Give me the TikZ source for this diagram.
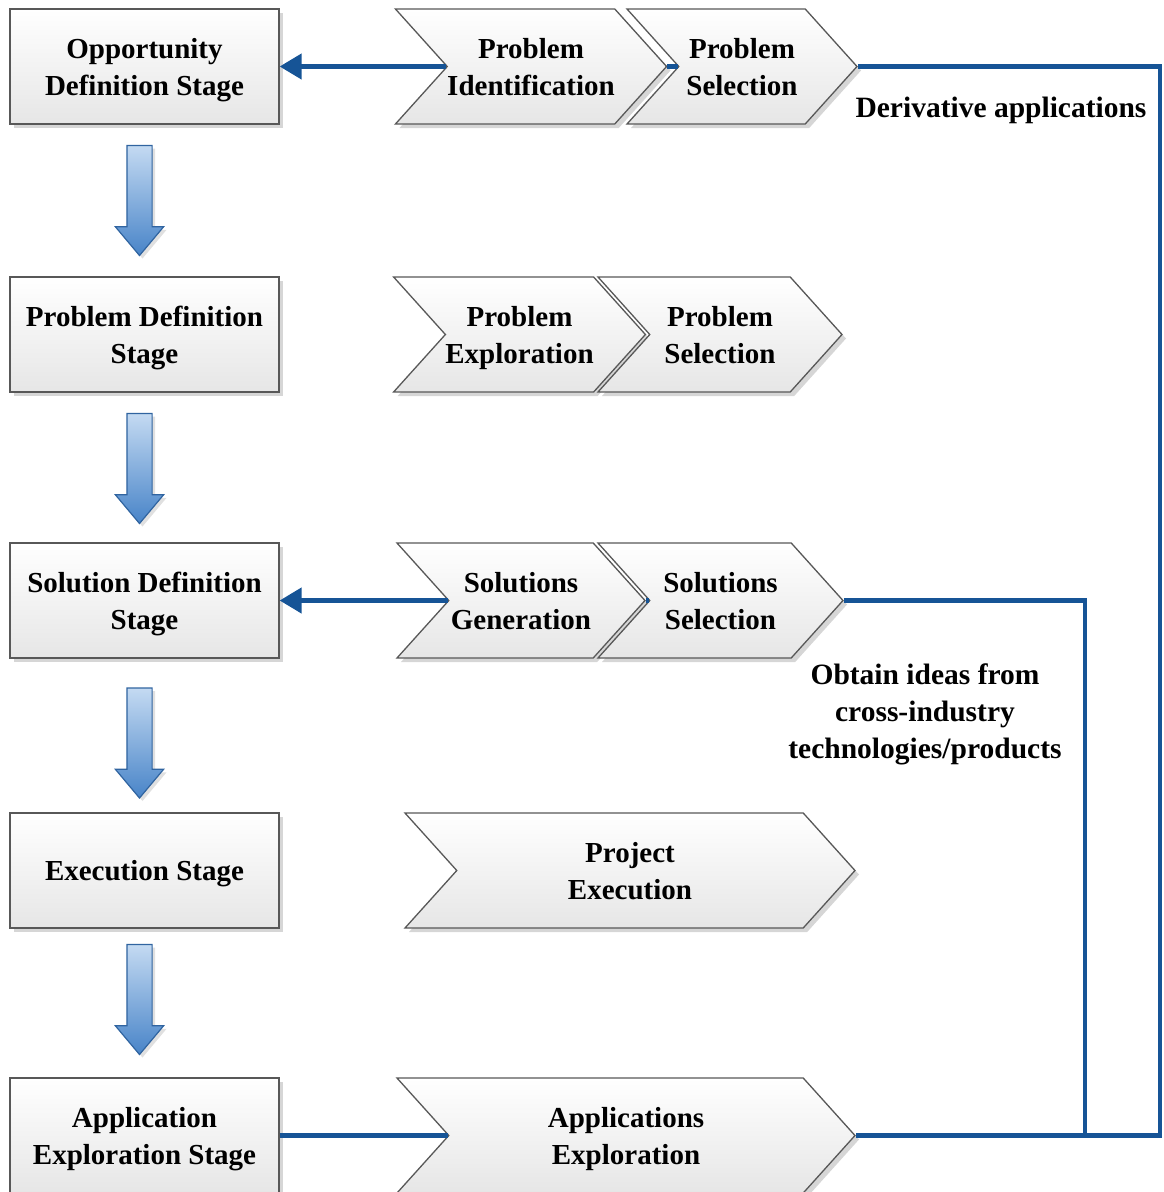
\documentclass[tikz,border=0pt]{standalone}
\usepackage{fontspec}
\setmainfont{Liberation Serif}
\usetikzlibrary{shapes.symbols,shapes.arrows,shadows,arrows.meta}

\definecolor{flowblue}{RGB}{22,84,150}
\definecolor{edgegray}{RGB}{88,88,88}
\definecolor{boxlow}{RGB}{230,230,230}
\definecolor{arrowlight}{RGB}{196,218,242}
\definecolor{arrowdark}{RGB}{72,132,200}
\definecolor{arrowedge}{RGB}{48,100,160}

\begin{document}
\begin{tikzpicture}[x=1pt,y=-1pt,
  every node/.style={font=\fontsize{29}{37}\selectfont\bfseries, align=center, inner sep=0pt, text depth=0pt},
  softshadow/.style={drop shadow={shadow xshift=4pt, shadow yshift=-4pt, fill=black, opacity=0.16}},
  stagebox/.style={rectangle, draw=edgegray, line width=1.3pt,
    minimum width=269pt, minimum height=115pt,
    top color=white, bottom color=boxlow, softshadow},
  chev/.style={signal, signal from=west, signal to=east, signal pointer angle=96,
    draw=edgegray, line width=1.3pt, minimum height=115pt,
    top color=white, bottom color=boxlow, softshadow},
  downarrow/.style={single arrow, rotate=-90, draw=arrowedge, line width=1.2pt,
    inner xsep=0pt, inner ysep=12pt, minimum height=110pt,
    single arrow head extend=11.5pt, single arrow tip angle=80,
    top color=arrowlight, bottom color=arrowdark,
    drop shadow={shadow xshift=3pt, shadow yshift=-3pt, fill=black, opacity=0.12}},
  flow/.style={draw=flowblue, line width=4.5pt},
  note/.style={font=\fontsize{29.5}{37}\selectfont\bfseries}
]
\useasboundingbox (0,0) rectangle (1164,1192);

% stage boxes on the left
\node[stagebox] (b1) at (144.5,66.5)   {Opportunity\\Definition Stage};
\node[stagebox] (b2) at (144.5,334.5)  {Problem Definition\\Stage};
\node[stagebox] (b3) at (144.5,600.5)  {Solution Definition\\Stage};
\node[stagebox] (b4) at (144.5,870.5)  {Execution Stage};
\node[stagebox] (b5) at (144.5,1135.5) {Application\\Exploration Stage};

% block arrows between the stages
\node[downarrow] (d1) at (139.5,193) {};
\node[downarrow] (d2) at (139.5,461) {};
\node[downarrow] (d3) at (139.5,735.5) {};
\node[downarrow] (d4) at (139.5,992) {};

% activity chevrons
\node[chev, minimum width=268pt] (c11) at (531,66.5)   {Problem\\Identification};
\node[chev, minimum width=230pt] (c12) at (742,66.5)   {Problem\\Selection};
\node[chev, minimum width=245pt] (c21) at (519.5,334.5) {Problem\\Exploration};
\node[chev, minimum width=244pt] (c22) at (720,334.5)  {Problem\\Selection};
\node[chev, minimum width=248pt] (c31) at (521,600.5)  {Solutions\\Generation};
\node[chev, minimum width=245pt] (c32) at (720.5,600.5) {Solutions\\Selection};
\node[chev, minimum width=450pt] (c4)  at (630,870.5)  {Project\\Execution};
\node[chev, minimum width=458pt] (c5)  at (626,1135.5) {Applications\\Exploration};

% feedback routes on the right
\coordinate (outer) at (1160,0);
\coordinate (inner) at (1085,0);

\draw[flow, -{Triangle[length=22pt,width=25pt]}] (c11.west) -- (b1.east);
\draw[flow] (c11.east) -- (c12.west);
\draw[flow] (c12.east) -| (outer |- c5.east) -- (c5.east);

\draw[flow, -{Triangle[length=22pt,width=25pt]}] (c31.west) -- (b3.east);
\draw[flow] (c31.east) -- (c32.west);
\draw[flow] (c32.east) -| (inner |- c5.east);

\draw[flow] (b5.east) -- (c5.west);

% route labels
\node[note] (deriv)  at (1001,107) {Derivative applications};
\node[note] (obtain) at (925,711)  {Obtain ideas from\\cross-industry\\technologies/products};
\end{tikzpicture}
\end{document}
